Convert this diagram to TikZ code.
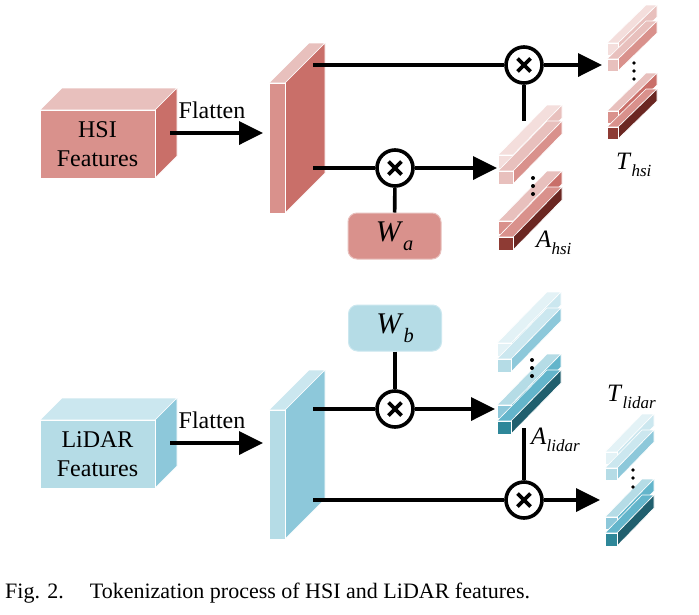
\documentclass[tikz,border=0pt]{standalone}
\usepackage{fontspec}
\setmainfont{Liberation Serif}
\usetikzlibrary{arrows.meta}
\definecolor{hA}{HTML}{F4DEDC}
\definecolor{hB}{HTML}{E8C0BD}
\definecolor{hC}{HTML}{D9918C}
\definecolor{hD}{HTML}{C96F69}
\definecolor{hE}{HTML}{8E3B34}
\definecolor{hF}{HTML}{6B2722}
\definecolor{lA}{HTML}{E3F2F6}
\definecolor{lB}{HTML}{CBE7EF}
\definecolor{lC}{HTML}{B5DCE6}
\definecolor{lD}{HTML}{8DC8DA}
\definecolor{lE}{HTML}{63B5CB}
\definecolor{lF}{HTML}{2E8799}
\definecolor{lG}{HTML}{205F6E}
% #1 x, #2 y (front top-left), #3 w, #4 h, #5 dx, #6 dy, #7 front, #8 top, #9 side
\newcommand\cuboid[9]{%
  \path[fill=#8,draw=white,line width=0.6pt] (#1,#2) -- ++(#5,-#6) -- ++(#3,0) -- ++(-#5,#6) -- cycle;
  \path[fill=#9,draw=white,line width=0.6pt] (#1+#3,#2) -- ++(#5,-#6) -- ++(0,#4) -- ++(-#5,#6) -- cycle;
  \path[fill=#7,draw=white,line width=0.6pt] (#1,#2) rectangle ++(#3,#4);}
\newcommand\subtxt[3]{\fontsize{#3}{#3}\selectfont\textit{#1}\raisebox{-0.3em}{\fontsize{0.68\dimexpr#3pt\relax}{10}\selectfont\textit{#2}}}
\tikzset{
  conn/.style={line width=3.6pt},
  arr/.style={conn,-{Triangle[length=24pt,width=23pt]}},
  mult/.style={circle,draw,line width=3.6pt,fill=white,minimum size=36pt,inner sep=0pt,
    path picture={\draw[line width=3.6pt] ([shift={(-6.5pt,-6.5pt)}]path picture bounding box.center) -- ++(13pt,13pt)
      ([shift={(-6.5pt,6.5pt)}]path picture bounding box.center) -- ++(13pt,-13pt);}},
  lbl/.style={font=\fontsize{24}{29}\selectfont,align=center,inner sep=0pt},
  wbox/.style={rounded corners=9pt,minimum width=93pt,minimum height=46pt,line width=1pt,inner sep=0pt},
  dotf/.style={fill=black}
}
\begin{document}
\begin{tikzpicture}[x=1pt,y=-1pt]
\useasboundingbox (0,0) rectangle (699,614);
\fill[white] (0,0) rectangle (699,614);

%================ HSI =================
\cuboid{40}{110}{115}{68}{22}{22}{hC}{hB}{hD}
\node[lbl] (hsi) at (97.5,144) {HSI\\Features};
\cuboid{269}{83}{16}{130}{40}{40}{hC}{hB}{hD}
\coordinate (f1s) at (170,133);
\coordinate (f1e) at (263,133);
\draw[arr] (f1s) -- (f1e);
\node[lbl] (flat1) at (212,110) {Flatten};

\coordinate (s1a) at (313,65);
\coordinate (s1b) at (313,168);
\node[mult] (m1) at (524,65) {};
\node[mult] (m2) at (395,168) {};
\node[wbox,fill=hC,draw=hB] (wa) at (394.5,236) {\subtxt{W}{a}{30}};
\coordinate (t1) at (602,65);
\coordinate (a1) at (497,168);
\coordinate (m1d) at (524,121);
\draw[conn] (s1a) -- (m1);
\draw[arr] (m1) -- (t1);
\draw[conn] (s1b) -- (m2);
\draw[arr] (m2) -- (a1);
\draw[conn] (wa) -- (m2);
\draw[conn] (m1) -- (m1d);

% A_hsi stack
\cuboid{498}{155}{15}{13}{49}{50}{hA}{hA}{hB}
\cuboid{498}{171}{15}{13}{49}{50}{hB}{hB}{hC}
\cuboid{498}{221}{15}{13}{49}{50}{hC}{hB}{hD}
\cuboid{498}{237}{15}{13}{49}{50}{hE}{hC}{hF}
\fill[dotf] (533,178) circle (2pt) (533,186) circle (2pt) (533,194) circle (2pt);
\node[anchor=west,inner sep=0pt] (ahsi) at (536,243) {\subtxt{A}{hsi}{25}};

% T_hsi stack
\cuboid{607}{43}{11}{12}{39}{38}{hA}{hA}{hB}
\cuboid{607}{59}{11}{12}{39}{38}{hB}{hB}{hC}
\cuboid{607}{111}{11}{12}{39}{38}{hC}{hB}{hD}
\cuboid{607}{127}{11}{12}{39}{38}{hE}{hC}{hF}
\fill[dotf] (634,63) circle (1.9pt) (634,71) circle (1.9pt) (634,79) circle (1.9pt);
\node[anchor=west,inner sep=0pt] (thsi) at (616,165) {\subtxt{T}{hsi}{25}};

%================ LiDAR =================
\cuboid{40}{420}{115}{68}{22}{22}{lC}{lB}{lD}
\node[lbl] (lidar) at (97.5,454) {LiDAR\\Features};
\cuboid{269}{410}{16}{129}{40}{40}{lC}{lB}{lD}
\coordinate (f2s) at (170,443);
\coordinate (f2e) at (263,443);
\draw[arr] (f2s) -- (f2e);
\node[lbl] (flat2) at (212,420) {Flatten};

\coordinate (s2a) at (313,409);
\coordinate (s2b) at (313,500);
\node[mult] (m3) at (395,409) {};
\node[mult] (m4) at (524,500) {};
\node[wbox,fill=lC,draw=lB] (wb) at (395,328) {\subtxt{W}{b}{30}};
\coordinate (a2) at (495,409);
\coordinate (t2) at (600,500);
\coordinate (m4u) at (524,428);
\draw[conn] (s2a) -- (m3);
\draw[arr] (m3) -- (a2);
\draw[conn] (wb) -- (m3);
\draw[conn] (s2b) -- (m4);
\draw[arr] (m4) -- (t2);
\draw[conn] (m4) -- (m4u);

% A_lidar stack
\cuboid{497}{343}{14}{13}{50}{51}{lA}{lA}{lB}
\cuboid{497}{359}{14}{13}{50}{51}{lC}{lB}{lD}
\cuboid{497}{405}{14}{13}{50}{51}{lD}{lC}{lE}
\cuboid{497}{421}{14}{13}{50}{51}{lF}{lE}{lG}
\fill[dotf] (532,360) circle (2pt) (532,368) circle (2pt) (532,376) circle (2pt);
\node[anchor=west,inner sep=0pt] (alidar) at (531,440) {\subtxt{A}{lidar}{25}};

% T_lidar stack
\cuboid{605}{452}{12}{12}{37}{38}{lA}{lA}{lB}
\cuboid{605}{468}{12}{12}{37}{38}{lC}{lB}{lD}
\cuboid{605}{517}{12}{12}{37}{38}{lD}{lC}{lE}
\cuboid{605}{533}{12}{13}{37}{38}{lF}{lE}{lG}
\fill[dotf] (633,470) circle (1.9pt) (633,478) circle (1.9pt) (633,487) circle (1.9pt);
\node[anchor=west,inner sep=0pt] (tlidar) at (607,397) {\subtxt{T}{lidar}{25}};

%================ caption =================
\node[anchor=base west,inner sep=0pt,font=\fontsize{22}{26}\selectfont] (cap) at (5,598)
  {Fig. 2.\hspace{26pt}Tokenization process of HSI and LiDAR features.};
\end{tikzpicture}
\end{document}
